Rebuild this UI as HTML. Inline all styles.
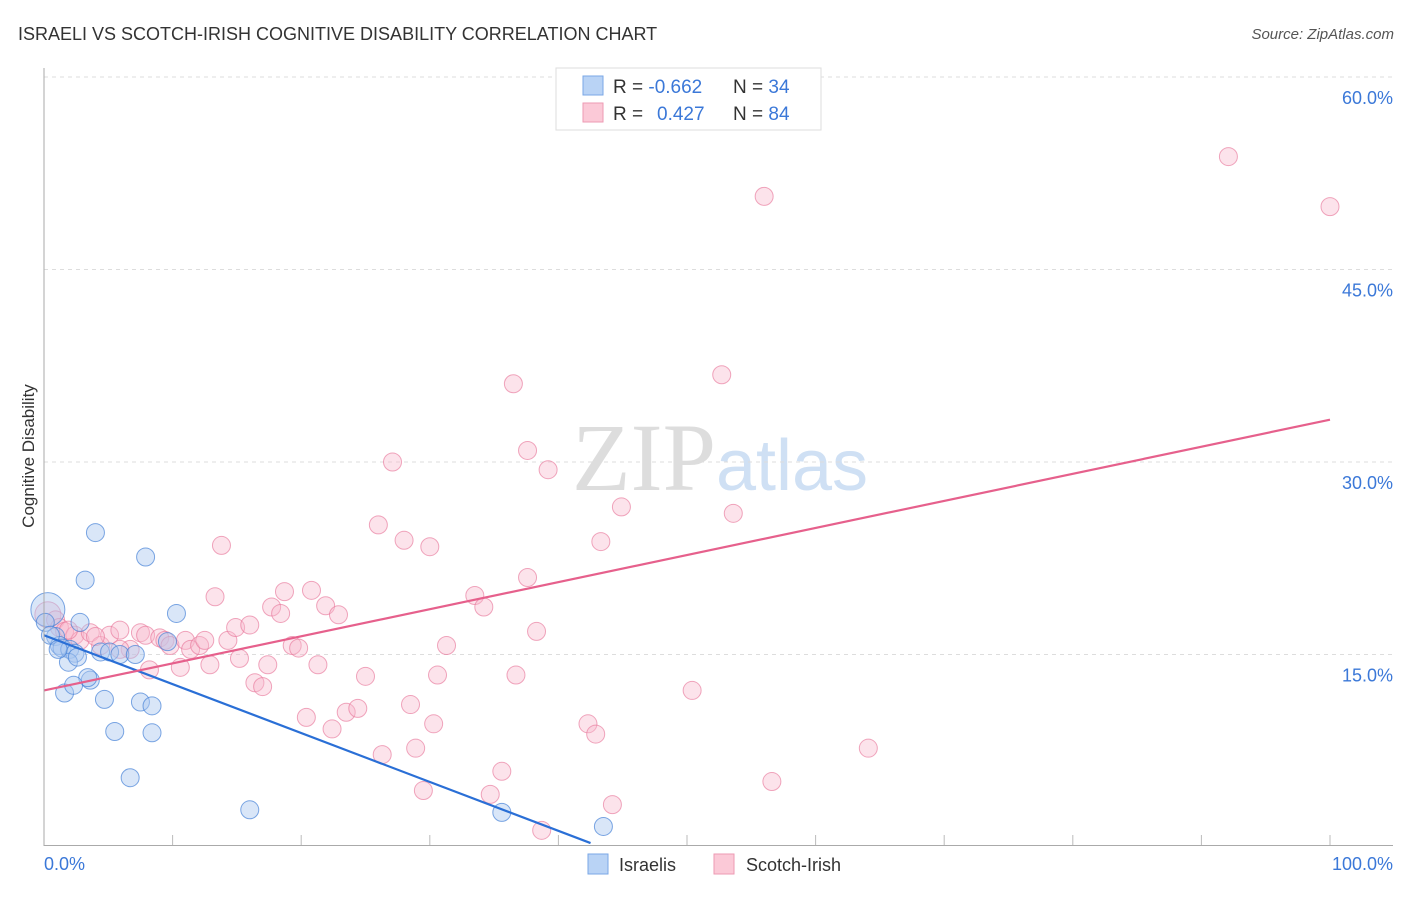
<!DOCTYPE html>
<html><head><meta charset="utf-8"><style>
body{margin:0;background:#fff;font-family:"Liberation Sans",sans-serif}
svg text{font-family:"Liberation Sans",sans-serif}
</style></head><body>
<svg width="1406" height="892" xmlns="http://www.w3.org/2000/svg" id="chart">
<text x="18" y="40" font-size="18" fill="#333">ISRAELI VS SCOTCH-IRISH COGNITIVE DISABILITY CORRELATION CHART</text>
<text x="1394" y="39" font-size="15" fill="#555" text-anchor="end" font-style="italic">Source: ZipAtlas.com</text>
<text x="720" y="490" font-size="96" text-anchor="middle"><tspan fill="#ddd" font-family="Liberation Serif">ZIP</tspan><tspan fill="#cfe0f4" font-size="72">atlas</tspan></text>
<text transform="translate(34,456) rotate(-90)" font-size="17" fill="#333" text-anchor="middle">Cognitive Disability</text>
<g id="grid"></g><g id="pts"></g><g id="lines"></g>
<line x1="44" y1="68" x2="44" y2="846" stroke="#aaa"/>
<line x1="44" y1="845.5" x2="1393" y2="845.5" stroke="#aaa"/>
<text x="44" y="870" font-size="18" fill="#3b78d8">0.0%</text>
<text x="1393" y="870" font-size="18" fill="#3b78d8" text-anchor="end">100.0%</text>
<g>
<rect x="556" y="68" width="265" height="62" fill="#fff" stroke="#ddd"/>
<rect x="583" y="76" width="20" height="19" fill="#b9d3f5" stroke="#7aa7e6"/>
<rect x="583" y="103" width="20" height="19" fill="#fbc9d7" stroke="#ee9ab3"/>
<text x="613" y="93" font-size="19" fill="#333">R = <tspan fill="#3b78d8">-0.662</tspan><tspan x="733">N = </tspan><tspan fill="#3b78d8">34</tspan></text>
<text x="613" y="120" font-size="19" fill="#333">R = <tspan fill="#3b78d8" x="657">0.427</tspan><tspan x="733">N = </tspan><tspan fill="#3b78d8">84</tspan></text>
</g>
<g>
<rect x="588" y="854" width="20" height="20" fill="#b9d3f5" stroke="#7aa7e6"/>
<text x="619" y="871" font-size="18" fill="#333">Israelis</text>
<rect x="714" y="854" width="20" height="20" fill="#fbc9d7" stroke="#ee9ab3"/>
<text x="746" y="871" font-size="18" fill="#333">Scotch-Irish</text>
</g>
</svg>
<script>
const yTicks=[15,30,45,60];
const yTickLabels=["15.0%","30.0%","45.0%","60.0%"];
const xTicks=[10,20,30,40,50,60,70,80,90,100];
const israeliX=[0.3,0.9,1.2,1.4,2.0,2.4,2.8,3.2,4.0,3.6,3.4,1.6,1.9,2.6,4.4,4.7,5.1,5.5,5.9,6.7,7.1,7.5,7.9,8.4,8.4,9.6,10.3,16.0,35.6,43.5,0.1,0.5,1.1,2.3];
const israeliY=[18.5,16.4,15.7,15.5,15.4,15.1,17.5,20.8,24.5,13.0,13.2,12.0,14.4,14.8,15.2,11.5,15.2,9.0,15.0,5.4,15.0,11.3,22.6,11.0,8.9,16.0,18.2,2.9,2.7,1.6,17.5,16.5,15.4,12.6];
const scotchX=[0.3,0.9,1.2,1.6,2.4,2.8,3.6,4.4,5.1,5.9,6.7,7.5,7.9,8.2,9.0,9.4,9.8,10.6,11.0,11.4,12.1,12.5,12.9,13.3,13.8,14.3,14.9,15.2,16.0,16.4,17.0,17.4,17.7,18.4,18.7,19.3,19.8,20.4,20.8,21.3,21.9,22.4,22.9,23.5,24.4,25.0,26.0,26.3,27.1,28.0,28.5,28.9,29.5,30.0,30.3,30.6,31.3,33.5,34.2,34.7,35.6,36.5,36.7,37.6,37.6,38.3,38.7,39.2,42.3,42.9,43.3,44.2,44.9,50.4,52.7,53.6,56.0,56.6,64.1,92.1,100,1.9,5.9,4.0];
const scotchY=[18.1,17.7,17.1,16.8,16.5,16.1,16.7,15.7,16.5,16.9,15.4,16.7,16.5,13.8,16.3,16.1,15.7,14.0,16.1,15.4,15.7,16.1,14.2,19.5,23.5,16.1,17.1,14.7,17.3,12.8,12.5,14.2,18.7,18.2,19.9,15.7,15.5,10.1,20.0,14.2,18.8,9.2,18.1,10.5,10.8,13.3,25.1,7.2,30.0,23.9,11.1,7.7,4.4,23.4,9.6,13.4,15.7,19.6,18.7,4.1,5.9,36.1,13.4,30.9,21.0,16.8,1.3,29.4,9.6,8.8,23.8,3.3,26.5,12.2,36.8,26.0,50.7,5.1,7.7,53.8,49.9,16.9,15.4,16.4];
const israeliTrend=[16.5,-0.381]; // intercept, slope
const scotchTrend=[12.2,0.211];
const trendRange=[[0,42.5],[0,100]];
const NS="http://www.w3.org/2000/svg";
const xs=v=>44+v*12.86, ys=v=>847-v*12.833;
function mk(t,a,p){const e=document.createElementNS(NS,t);for(const k in a)e.setAttribute(k,a[k]);p.appendChild(e);return e;}
const grid=document.getElementById('grid');
yTicks.forEach((t,i)=>{
 const l=mk('line',{x1:44,x2:1393,y1:ys(t),y2:ys(t),stroke:'#ddd','stroke-dasharray':'4,4'},grid);
 
 
 const tx=mk('text',{x:1393,y:ys(t)+27,'font-size':18,fill:'#3b78d8','text-anchor':'end'},grid);
 tx.textContent=yTickLabels[i];
 
 
});
xTicks.forEach(t=>{
 const l=mk('line',{x1:xs(t),x2:xs(t),y1:835,y2:846,stroke:'#bbb'},grid);
 
 
});
const pts=document.getElementById('pts');
scotchX.forEach((x,i)=>{
 const c=mk('circle',{cx:xs(x),cy:ys(scotchY[i]),r:i==0?13:9,fill:'rgba(248,185,205,0.4)',stroke:'rgba(232,120,155,0.65)','stroke-width':1},pts);
 
 
});
israeliX.forEach((x,i)=>{
 const c=mk('circle',{cx:xs(x),cy:ys(israeliY[i]),r:i==0?17:9,fill:'rgba(170,200,240,0.45)',stroke:'rgba(70,130,215,0.7)','stroke-width':1},pts);
 
 
});
const lines=document.getElementById('lines');
[[israeliTrend,'#2a6fd6','israeli-trend-line',trendRange[0]],[scotchTrend,'#e6608c','scotch-irish-trend-line',trendRange[1]]].forEach(([tr,col,nm,rg])=>{
 const l=mk('line',{x1:xs(rg[0]),y1:ys(tr[0]+tr[1]*rg[0]),x2:xs(rg[1]),y2:ys(tr[0]+tr[1]*rg[1]),stroke:col,'stroke-width':2.2},lines);
 
 
});
</script>
</body></html>
